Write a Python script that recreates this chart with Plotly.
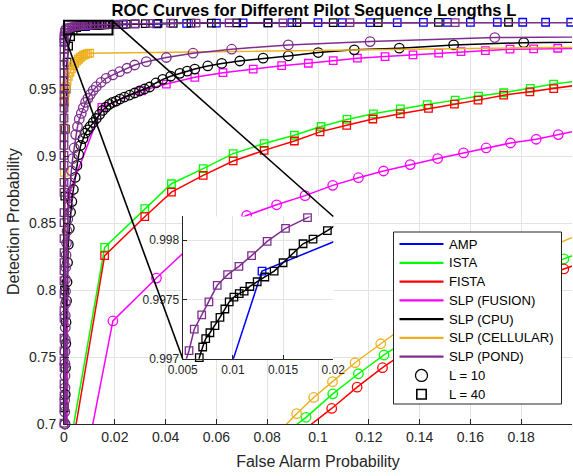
import plotly.graph_objects as go

# ---------------- data ----------------
amp_l10_x = [0.0, 0.05, 0.1, 0.15, 0.2, 0.3, 1.0]
amp_l10_y = [0.0, 0.48, 0.57, 0.63, 0.675, 0.74, 1.0]

amp_l40_x = [0.0, 0.0001, 0.002, 0.005, 0.0085, 0.0129, 0.0233, 0.0365, 0.0483, 0.0600, 0.0705,
             0.0803, 0.0897, 0.1000, 0.1095, 0.1205, 0.1312, 0.1415, 0.1510, 0.1600, 0.1706,
             0.1806, 0.1896, 0.1995, 1.0]
amp_l40_y = [0.0, 0.985, 0.994, 0.9958, 0.9966, 0.99774, 0.9981, 0.9987, 0.9990, 0.9992, 0.9993,
             0.9994, 0.9995, 0.9995, 0.9996, 0.9996, 0.9996, 0.9997, 0.9997, 0.9997, 0.9998,
             0.9998, 0.9998, 0.9998, 1.0]

ista_l10_x = [0.0, 0.085, 0.0953, 0.1058, 0.1159, 0.1260, 0.1370, 0.1480, 0.1590, 0.1710,
              0.1830, 0.1968, 0.2080, 1.0]
ista_l10_y = [0.0, 0.690, 0.7050, 0.7225, 0.7375, 0.7515, 0.7650, 0.7780, 0.7900, 0.8010,
              0.8120, 0.8232, 0.8310, 1.0]

ista_l40_x = [0.0, 0.002, 0.0160, 0.0318, 0.0423, 0.0548, 0.0666, 0.0788, 0.0907, 0.1012,
              0.1114, 0.1218, 0.1324, 0.1430, 0.1540, 0.1632, 0.1731, 0.1836, 0.1928, 0.2025, 1.0]
ista_l40_y = [0.0, 0.68, 0.8318, 0.8608, 0.8793, 0.8906, 0.9018, 0.9093, 0.9155, 0.9220,
              0.9273, 0.9315, 0.9351, 0.9384, 0.9417, 0.9447, 0.9472, 0.9505, 0.9537, 0.9560, 1.0]

fista_l10_x = [0.0, 0.090, 0.1054, 0.1154, 0.1254, 0.1360, 0.1470, 0.1580, 0.1700, 0.1830,
               0.1968, 0.2080, 1.0]
fista_l10_y = [0.0, 0.689, 0.7116, 0.7275, 0.7420, 0.7560, 0.7700, 0.7820, 0.7940, 0.8050,
               0.8157, 0.8230, 1.0]

fista_l40_x = [0.0, 0.003, 0.0160, 0.0318, 0.0423, 0.0548, 0.0666, 0.0788, 0.0907, 0.1008,
               0.1113, 0.1216, 0.1324, 0.1435, 0.1537, 0.1630, 0.1731, 0.1834, 0.1928, 0.2025, 1.0]
fista_l40_y = [0.0, 0.68, 0.8256, 0.8547, 0.8730, 0.8855, 0.8963, 0.9042, 0.9112, 0.9180,
               0.9229, 0.9276, 0.9315, 0.9355, 0.9387, 0.9417, 0.9454, 0.9479, 0.9503, 0.9530, 1.0]

fusion_l10_x = [0.0, 0.006, 0.01925, 0.0364, 0.0539, 0.0719, 0.0837, 0.0949, 0.1058, 0.1159,
                0.1258, 0.1363, 0.1471, 0.1573, 0.1662, 0.1758, 0.1859, 0.1946, 0.2035, 1.0]
fusion_l10_y = [0.0, 0.648, 0.7769, 0.8089, 0.8399, 0.8556, 0.8636, 0.8704, 0.8781, 0.8838,
                0.8888, 0.8936, 0.8981, 0.9023, 0.9060, 0.9097, 0.9125, 0.9160, 0.9195, 1.0]

fusion_l40_x = [0.0, 0.0015, 0.0149, 0.0305, 0.0403, 0.0515, 0.0626, 0.0745, 0.0857, 0.0962,
                0.1060, 0.1155, 0.1264, 0.1374, 0.1475, 0.1563, 0.1659, 0.1756, 0.1849, 0.1944, 1.0]
fusion_l40_y = [0.0, 0.8693, 0.9363, 0.9487, 0.9537, 0.9587, 0.9622, 0.9649, 0.9674, 0.9692,
                0.9712, 0.9730, 0.9742, 0.9754, 0.9767, 0.9779, 0.9787, 0.9797, 0.9799, 0.9804, 1.0]

cpu_l10_x = [0.0, 0.0004, 0.0005, 0.0006, 0.0007, 0.0008, 0.0010, 0.0012, 0.0014, 0.0017, 0.0021,
             0.0026, 0.0031, 0.0037, 0.0044, 0.0051, 0.0058, 0.0066, 0.0075, 0.0084, 0.0093,
             0.0103, 0.0115, 0.0127, 0.0140, 0.0152, 0.0165, 0.0178, 0.0191, 0.0205, 0.0220,
             0.0238, 0.0258, 0.0278, 0.0297, 0.0317, 0.0337, 0.0362, 0.0389, 0.0420, 0.0456,
             0.0485, 0.0515, 0.0566, 0.0621, 0.0692, 0.0784, 0.0883, 0.1001, 0.1143, 0.1320,
             0.1534, 0.1810, 1.0]
cpu_l10_y = [0.0, 0.700, 0.722, 0.742, 0.760, 0.776, 0.792, 0.806, 0.8205, 0.834, 0.846,
             0.858, 0.866, 0.875, 0.884, 0.893, 0.901, 0.908, 0.913, 0.917, 0.9195,
             0.922, 0.925, 0.928, 0.931, 0.934, 0.9365, 0.9385, 0.940, 0.941, 0.9425,
             0.944, 0.9455, 0.947, 0.9485, 0.950, 0.9515, 0.9545, 0.9572, 0.9595, 0.9617,
             0.9633, 0.9649, 0.9672, 0.9691, 0.9709, 0.9730, 0.9747, 0.9772, 0.9792, 0.9805,
             0.9829, 0.9846, 1.0]

cpu_l40_x = [0.0, 0.0001, 0.0002, 0.0003, 0.0005, 0.0008, 0.0012, 0.0018, 0.0026, 0.0036, 0.0048,
             0.0058, 0.00665, 0.00699, 0.00729, 0.00771, 0.00821, 0.00871, 0.0092, 0.00963,
             0.0101, 0.01063, 0.01112, 0.01169, 0.01242, 0.01318, 0.01411, 0.0150, 0.0160,
             0.01699, 0.01798, 0.01941, 0.0215, 0.0245, 0.0280, 0.0320, 0.0370, 0.0430, 0.0500,
             0.0580, 0.0680, 0.0803, 0.0917, 0.1060, 0.1237, 0.1474, 0.1750, 1.0]
cpu_l40_y = [0.0, 0.712, 0.80, 0.87, 0.92, 0.95, 0.97, 0.982, 0.989, 0.9935, 0.9958,
             0.9966, 0.99701, 0.9971, 0.99717, 0.99722, 0.99728, 0.99735, 0.99742, 0.99748,
             0.99752, 0.99755, 0.99757, 0.99761, 0.99765, 0.99769, 0.99774, 0.99781, 0.99789,
             0.99797, 0.99801, 0.99808, 0.9982, 0.9984, 0.9986, 0.9988, 0.9989, 0.9990, 0.9991,
             0.9992, 0.9993, 0.9994, 0.9995, 0.9995, 0.9996, 0.9997, 0.9998, 1.0]

cellular_l10_x = [0.0, 0.080, 0.0916, 0.0983, 0.1057, 0.1146, 0.1247, 0.1350, 0.1460, 0.1570,
                  0.1680, 0.1790, 0.1900, 0.2010, 1.0]
cellular_l10_y = [0.0, 0.685, 0.7077, 0.7198, 0.7316, 0.7457, 0.7599, 0.7740, 0.7880, 0.8010,
                  0.8120, 0.8220, 0.8310, 0.8400, 1.0]

cellular_l40_x = [0.0, 0.0001, 0.0002, 0.0003, 0.0005, 0.0008, 0.0012, 0.0017, 0.0023, 0.0029,
                  0.0036, 0.0043, 0.0050, 0.0057, 0.0064, 0.0071, 0.0078, 0.0085, 0.0092, 0.0101, 1.0]
cellular_l40_y = [0.0, 0.8878, 0.9200, 0.9400, 0.9470, 0.9520, 0.9560, 0.9595, 0.9625, 0.9650,
                  0.9672, 0.9692, 0.9708, 0.9722, 0.9735, 0.9745, 0.9753, 0.9759, 0.9764, 0.9767, 1.0]

pond_l10_x = [0.0, 0.0003, 0.0003, 0.0003, 0.0004, 0.0004, 0.0004, 0.0004, 0.0005, 0.0005, 0.0005,
              0.0006, 0.0006, 0.0006, 0.0007, 0.0008, 0.0010, 0.0012, 0.0015, 0.0018, 0.0021,
              0.0025, 0.0029, 0.0034, 0.0040, 0.0046, 0.0053, 0.0060, 0.0068, 0.0076, 0.0085,
              0.0094, 0.0104, 0.0115, 0.0127, 0.0146, 0.0166, 0.0192, 0.0219, 0.0248, 0.0278,
              0.0324, 0.0403, 0.0508, 0.0660, 0.0883, 0.1205, 0.1696, 1.0]
pond_l10_y = [0.0, 0.700, 0.709, 0.718, 0.727, 0.736, 0.745, 0.754, 0.763, 0.772, 0.781,
              0.790, 0.799, 0.808, 0.817, 0.826, 0.835, 0.844, 0.853, 0.862, 0.871,
              0.880, 0.889, 0.898, 0.906, 0.916, 0.922, 0.9275, 0.9318, 0.9360, 0.9400,
              0.9430, 0.9460, 0.9490, 0.9517, 0.9550, 0.9580, 0.9605, 0.9629, 0.9655, 0.9679,
              0.9704, 0.9735, 0.9767, 0.9797, 0.9829, 0.9854, 0.9884, 1.0]

pond_l40_x = [0.0, 0.0, 0.0, 0.0, 0.0, 0.0, 0.0, 0.0, 0.0, 0.0, 0.0, 0.0, 0.0, 0.0, 0.0, 0.0,
              0.0, 0.0, 0.0, 0.0, 0.0, 0.0, 0.0, 0.0, 0.0, 0.0, 0.0, 0.0, 0.0, 0.0, 0.0,
              0.0, 0.0, 0.0, 0.0, 0.0, 0.0, 0.0, 0.0,
              0.0002, 0.0006, 0.0012, 0.0020, 0.0030, 0.0040, 0.0048,
              0.00563, 0.00615, 0.00689, 0.00761, 0.00844, 0.00947, 0.0106, 0.01186, 0.01341,
              0.01524, 0.01743, 0.0200, 0.0235, 0.0280, 0.0340, 0.0420, 0.0520, 0.0650, 0.0862,
              0.1126, 0.1540, 0.2100, 1.0]
pond_l40_y = [0.0, 0.7007, 0.7134, 0.721, 0.730, 0.742, 0.747, 0.7545, 0.764, 0.779, 0.7845,
              0.797, 0.807, 0.8145, 0.8204, 0.8279, 0.8383, 0.8503, 0.8578, 0.8728, 0.8803,
              0.893, 0.9005, 0.908, 0.914, 0.9207, 0.9282, 0.9357, 0.9405, 0.9454, 0.950,
              0.956, 0.962, 0.968, 0.974, 0.980, 0.985, 0.9875, 0.9897,
              0.9925, 0.9940, 0.9950, 0.9957, 0.9962, 0.9966, 0.99685,
              0.99707, 0.99725, 0.99737, 0.99748, 0.99762, 0.99771, 0.99778, 0.99787, 0.99799,
              0.9981, 0.99819, 0.99832, 0.9985, 0.9987, 0.9989, 0.9991, 0.9992, 0.9993, 0.9994,
              0.9995, 0.9996, 0.9997, 1.0]

methods = ["AMP", "ISTA", "FISTA", "SLP (FUSION)", "SLP (CPU)", "SLP (CELLULAR)", "SLP (POND)"]
colors = ["#0000FF", "#00FF00", "#FF0000", "#FF00FF", "#000000", "#EDB120", "#7E2F8E"]
size_labels = ["L = 10", "L = 40"]
series_l10 = [(amp_l10_x, amp_l10_y), (ista_l10_x, ista_l10_y), (fista_l10_x, fista_l10_y),
              (fusion_l10_x, fusion_l10_y), (cpu_l10_x, cpu_l10_y),
              (cellular_l10_x, cellular_l10_y), (pond_l10_x, pond_l10_y)]
series_l40 = [(amp_l40_x, amp_l40_y), (ista_l40_x, ista_l40_y), (fista_l40_x, fista_l40_y),
              (fusion_l40_x, fusion_l40_y), (cpu_l40_x, cpu_l40_y),
              (cellular_l40_x, cellular_l40_y), (pond_l40_x, pond_l40_y)]

main_xrange = [0.0, 0.2]
main_yrange = [0.7, 1.0]
inset_xrange = [0.005, 0.02]
inset_yrange = [0.997, 0.9982]
zoom_box_x = [0.0, 0.0191]
zoom_box_y = [0.9906, 1.0009]

FONT = "Liberation Sans, Arial, Helvetica, sans-serif"
AXC = "#262626"
GRID = "#E3E3E3"

W, H = 573, 476
ML, MR, MT, MB = 64, 1, 22, 52
PW, PH = W - ML - MR, H - MT - MB


def pxx(p):  # pixel column -> paper x
    return (p - ML) / PW


def pxy(p):  # pixel row -> paper y
    return (H - MB - p) / PH


fig = go.Figure()

for axes in (("x", "y"), ("x2", "y2")):
    for i, name in enumerate(methods):
        for (sx, sy), sym, size in ((series_l10[i], "circle-open", 9.5),
                                    (series_l40[i], "square-open", 7.5)):
            fig.add_trace(go.Scatter(
                x=sx, y=sy, mode="lines+markers", xaxis=axes[0], yaxis=axes[1],
                line=dict(color=colors[i], width=1.5),
                marker=dict(symbol=sym, size=size, color=colors[i],
                            line=dict(color=colors[i], width=1.3)),
                cliponaxis=False, showlegend=False, hoverinfo="skip", name=name))


def to_px(v):
    return (v - main_xrange[0]) / (main_xrange[1] - main_xrange[0])


def to_py(v):
    return (v - main_yrange[0]) / (main_yrange[1] - main_yrange[0])


inset_dx = [0.2337, 0.5301]
inset_dy = [0.1621, 0.5162]

shapes = [
    dict(type="rect", xref="paper", yref="paper",
         x0=to_px(zoom_box_x[0]), x1=to_px(zoom_box_x[1]),
         y0=to_py(zoom_box_y[0]), y1=to_py(zoom_box_y[1]),
         line=dict(color="black", width=2), layer="above"),
    dict(type="line", xref="paper", yref="paper",
         x0=to_px(zoom_box_x[1]), y0=to_py(zoom_box_y[1]),
         x1=inset_dx[1], y1=inset_dy[1], line=dict(color="black", width=1.6), layer="above"),
    dict(type="line", xref="paper", yref="paper",
         x0=to_px(zoom_box_x[0]), y0=to_py(zoom_box_y[0]),
         x1=inset_dx[0], y1=inset_dy[0], line=dict(color="black", width=1.6), layer="above"),
]

# ---- legend box (drawn by hand to match the reference's compact layout) ----
LEG_L, LEG_R, LEG_T, LEG_B = 393.5, 561.5, 232, 404
ROW0, ROWH = 244, 18.78
SYM_L, SYM_R, TXT_L = 399.5, 443.5, 446.5
annotations = []
shapes.append(dict(type="rect", xref="paper", yref="paper",
                   x0=pxx(LEG_L), x1=pxx(LEG_R), y0=pxy(LEG_B), y1=pxy(LEG_T),
                   fillcolor="white", line=dict(color=AXC, width=1), layer="above"))
entries = [(m, c, "line") for m, c in zip(methods, colors)] + \
          [(size_labels[0], "black", "circle"), (size_labels[1], "black", "square")]
for k, (label, col, kind) in enumerate(entries):
    yc = ROW0 + k * ROWH
    xc = (SYM_L + SYM_R) / 2
    if kind == "line":
        shapes.append(dict(type="line", xref="paper", yref="paper",
                           x0=pxx(SYM_L), x1=pxx(SYM_R), y0=pxy(yc), y1=pxy(yc),
                           line=dict(color=col, width=2.2), layer="above"))
    elif kind == "circle":
        r = 6
        shapes.append(dict(type="circle", xref="paper", yref="paper",
                           x0=pxx(xc - r), x1=pxx(xc + r), y0=pxy(yc + r), y1=pxy(yc - r),
                           line=dict(color=col, width=1.2), layer="above"))
    else:
        r = 4.7
        shapes.append(dict(type="rect", xref="paper", yref="paper",
                           x0=pxx(xc - r), x1=pxx(xc + r), y0=pxy(yc + r), y1=pxy(yc - r),
                           line=dict(color=col, width=1.6), layer="above"))
    annotations.append(dict(text=label, xref="paper", yref="paper", x=pxx(TXT_L), y=pxy(yc),
                            xanchor="left", yanchor="middle", showarrow=False,
                            font=dict(family=FONT, size=13.1, color="black")))

# y axis title
annotations.append(dict(text="Detection Probability", xref="paper", yref="paper",
                        x=pxx(14), y=pxy(222), xanchor="center", yanchor="middle",
                        textangle=-90, showarrow=False,
                        font=dict(family=FONT, size=16, color=AXC)))

main_xt = [0, 0.02, 0.04, 0.06, 0.08, 0.1, 0.12, 0.14, 0.16, 0.18]
main_xl = ["0", "0.02", "0.04", "0.06", "0.08", "0.1", "0.12", "0.14", "0.16", "0.18"]
main_yt = [0.7, 0.75, 0.8, 0.85, 0.9, 0.95]
main_yl = ["0.7", "0.75", "0.8", "0.85", "0.9", "0.95"]
inset_xt = [0.005, 0.01, 0.015, 0.02]
inset_xl = ["0.005", "0.01", "0.015", "0.02"]
inset_yt = [0.997, 0.9975, 0.998]
inset_yl = ["0.997", "0.9975", "0.998"]

fig.update_layout(
    width=W, height=H,
    margin=dict(l=ML, r=MR, t=MT, b=MB, autoexpand=False),
    paper_bgcolor="white", plot_bgcolor="white",
    font=dict(family=FONT, color=AXC, size=14),
    title=dict(text="<b>ROC Curves for Different Pilot Sequence Lengths L</b>",
               font=dict(family=FONT, size=16.6, color="black"),
               x=0.492, xref="paper", xanchor="center", y=0.978, yanchor="middle"),
    xaxis=dict(range=main_xrange, domain=[0, 1], tickvals=main_xt, ticktext=main_xl,
               ticks="inside", ticklen=5, tickcolor=AXC, showline=True, linecolor=AXC,
               linewidth=1, showgrid=True, gridcolor=GRID, zeroline=False, automargin=False,
               tickfont=dict(size=14),
               title=dict(text="False Alarm Probability", font=dict(size=16), standoff=12)),
    yaxis=dict(range=main_yrange, domain=[0, 1], tickvals=main_yt, ticktext=main_yl,
               ticks="inside", ticklen=5, tickcolor=AXC, showline=True, linecolor=AXC,
               linewidth=1, showgrid=True, gridcolor=GRID, zeroline=False, automargin=False,
               tickfont=dict(size=14), ticklabelstandoff=4),
    xaxis2=dict(range=inset_xrange, domain=inset_dx, anchor="y2", tickvals=inset_xt,
                ticktext=inset_xl, ticks="inside", ticklen=4, tickcolor=AXC, showline=True,
                linecolor=AXC, linewidth=1.2, showgrid=True, gridcolor=GRID, zeroline=False,
                automargin=False, tickfont=dict(size=12)),
    yaxis2=dict(range=inset_yrange, domain=inset_dy, anchor="x2", tickvals=inset_yt,
                ticktext=inset_yl, ticks="inside", ticklen=4, tickcolor=AXC, showline=True,
                linecolor=AXC, linewidth=1.2, showgrid=True, gridcolor=GRID, zeroline=False,
                automargin=False, tickfont=dict(size=12)),
    shapes=shapes,
    annotations=annotations,
    showlegend=False,
)

fig.write_html("out.html", config={"displayModeBar": False},
               post_script="document.body.style.margin='0px';document.body.style.overflow='hidden';")
